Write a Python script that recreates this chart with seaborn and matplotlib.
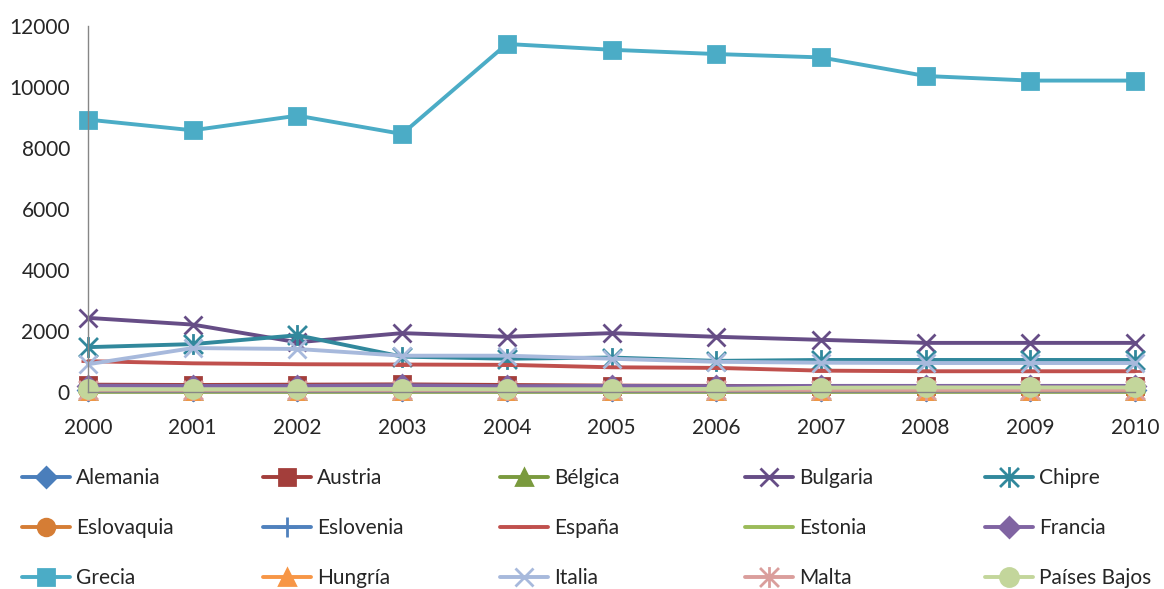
import pandas as pd
import matplotlib
matplotlib.use("Agg")
import matplotlib.pyplot as plt
from matplotlib.path import Path
import seaborn as sns

# data
years = [2000, 2001, 2002, 2003, 2004, 2005, 2006, 2007, 2008, 2009, 2010]
alemania = [60, 60, 60, 70, 60, 60, 60, 60, 60, 60, 60]
austria = [230, 220, 230, 240, 220, 200, 190, 180, 170, 170, 170]
belgica = [15, 15, 15, 15, 15, 15, 15, 15, 15, 15, 15]
bulgaria = [2420, 2200, 1620, 1920, 1800, 1920, 1800, 1700, 1600, 1600, 1600]
chipre = [1460, 1560, 1850, 1150, 1080, 1120, 1010, 1040, 1040, 1040, 1040]
eslovaquia = [30, 30, 30, 30, 30, 30, 30, 30, 30, 30, 30]
eslovenia = [20, 20, 20, 20, 20, 20, 20, 20, 20, 20, 20]
espana = [1000, 930, 900, 890, 880, 800, 780, 690, 670, 670, 670]
estonia = [5, 5, 5, 5, 5, 5, 5, 5, 5, 5, 5]
francia = [200, 190, 190, 210, 180, 190, 180, 190, 190, 190, 190]
grecia = [8920, 8570, 9050, 8450, 11400, 11210, 11070, 10960, 10350, 10200, 10200]
hungria = [10, 10, 10, 10, 10, 10, 10, 10, 10, 10, 10]
italia = [900, 1430, 1400, 1180, 1180, 1080, 980, 950, 940, 940, 940]
malta = [50, 50, 50, 50, 50, 50, 50, 60, 60, 60, 60]
paises_bajos = [80, 80, 80, 90, 80, 80, 90, 130, 140, 140, 140]

countries = ["Alemania", "Austria", "Bélgica", "Bulgaria", "Chipre",
             "Eslovaquia", "Eslovenia", "España", "Estonia", "Francia",
             "Grecia", "Hungría", "Italia", "Malta", "Países Bajos"]
series = [alemania, austria, belgica, bulgaria, chipre,
          eslovaquia, eslovenia, espana, estonia, francia,
          grecia, hungria, italia, malta, paises_bajos]

# Excel style asterisk: an X with a vertical stroke
star = Path([(-1, -1), (1, 1), (-1, 1), (1, -1), (0, -1.1), (0, 1.1)],
            [Path.MOVETO, Path.LINETO, Path.MOVETO, Path.LINETO, Path.MOVETO, Path.LINETO])

styles = {
    "Alemania": ("#4A7EBB", "D", 10),
    "Austria": ("#A33E3B", "s", 12),
    "Bélgica": ("#7A9A3E", "^", 11),
    "Bulgaria": ("#664D86", "x", 13),
    "Chipre": ("#31889C", star, 15),
    "Eslovaquia": ("#D57D35", "o", 12),
    "Eslovenia": ("#4F81BD", "+", 14),
    "España": ("#C0504D", "_", 10),
    "Estonia": ("#9BBB59", "_", 14),
    "Francia": ("#8064A2", "D", 10),
    "Grecia": ("#4BACC6", "s", 12),
    "Hungría": ("#F79646", "^", 11),
    "Italia": ("#A7B9DC", "x", 13),
    "Malta": ("#DA9E9C", star, 15),
    "Países Bajos": ("#C3D69B", "o", 13),
}

df = pd.DataFrame({
    "year": years * len(countries),
    "value": [v for s in series for v in s],
    "country": [c for c in countries for _ in years],
})

sns.set_style("white")
plt.rcParams["font.family"] = ["Lato", "DejaVu Sans"]

fig = plt.figure(figsize=(11.64, 5.89), dpi=100)
ax = fig.add_axes([0.0756, 0.335, 0.8995, 0.6214])

for name in countries:
    color, marker, ms = styles[name]
    sub = df[df["country"] == name]
    sns.lineplot(data=sub, x="year", y="value", ax=ax, color=color, linewidth=2.8,
                 marker=marker, markersize=ms, markeredgecolor=color,
                 markeredgewidth=2.0, label=name, clip_on=False)

if ax.get_legend() is not None:
    ax.get_legend().remove()

ax.set_xlim(2000, 2010)
ax.set_ylim(0, 12000)
ax.set_xticks(years)
ax.set_yticks(range(0, 12001, 2000))
ax.set_xlabel("")
ax.set_ylabel("")
for side in ["top", "right"]:
    ax.spines[side].set_visible(False)
for side in ["left", "bottom"]:
    ax.spines[side].set_color("#868686")
    ax.spines[side].set_linewidth(1.0)
ax.tick_params(axis="y", direction="out", length=5, color="#868686", pad=8, labelsize=15)
ax.tick_params(axis="x", direction="out", length=5, color="#868686", pad=14, labelsize=15)

handles, labels = ax.get_legend_handles_labels()
col_x = [22, 263, 500, 745, 985]
for c in range(5):
    idx = [c, c + 5, c + 10]
    fig.legend([handles[i] for i in idx], [labels[i] for i in idx],
               loc="center left", bbox_to_anchor=(col_x[c] / 1164, 1 - 528 / 589),
               frameon=False, fontsize=15, handlelength=2.3, handletextpad=0.3,
               borderpad=0, borderaxespad=0, labelspacing=1.45, numpoints=1)

fig.savefig("out.png", dpi=100)
